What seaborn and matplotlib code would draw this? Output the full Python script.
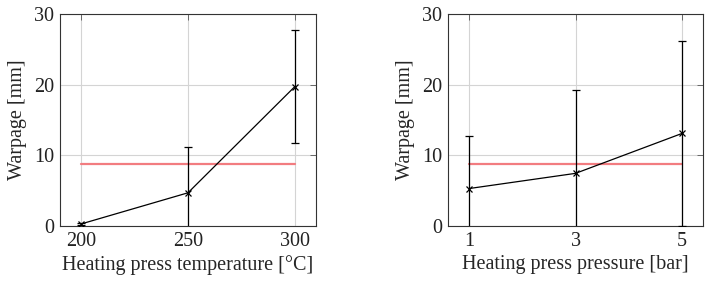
from matplotlib import pyplot as plt
import pandas as pd
import seaborn as sns

# values (mean warpage with symmetric error)
temperature = [200, 250, 300]
warpage_temp = [0.3, 4.7, 19.7]
err_temp = [0.1, 6.5, 8.0]

pressure = [1, 3, 5]
warpage_press = [5.3, 7.45, 13.1]
err_press = [7.4, 11.75, 13.1]

threshold = 8.8

sns.set_style("white")
plt.rcParams['font.family'] = ['Liberation Serif', 'DejaVu Serif']
plt.rcParams['font.size'] = 14.5
plt.rcParams['text.color'] = '#222222'


def draw_panel(ax, x, y, err, xlabel, xlim, xticks):
    df = pd.DataFrame({'x': x, 'y': y})
    ax.errorbar(x, y, yerr=err, fmt='none', ecolor='black', elinewidth=0.9,
                capsize=3, capthick=0.9, zorder=3)
    sns.lineplot(data=df, x='x', y='y', ax=ax, color='black', linewidth=0.9,
                 marker='x', markersize=5, markeredgewidth=0.9,
                 markeredgecolor='black', zorder=4)
    thr = pd.DataFrame({'x': [x[0], x[-1]], 'y': [threshold, threshold]})
    sns.lineplot(data=thr, x='x', y='y', ax=ax, color='#f27c80', linewidth=1.6,
                 zorder=2)
    ax.set_xlim(*xlim)
    ax.set_ylim(0, 30)
    ax.set_xticks(xticks)
    ax.set_yticks([0, 10, 20, 30])
    ax.grid(True, color='#d4d4d4', linewidth=0.8)
    ax.set_axisbelow(True)
    ax.tick_params(direction='in', length=4, width=0.6, color='#555555',
                   labelcolor='#222222', top=True, right=True,
                   labelsize=14.5, pad=4)
    for s in ax.spines.values():
        s.set_color('#333333')
        s.set_linewidth(0.8)
    ax.set_xlabel(xlabel, fontsize=14.5, labelpad=3)
    ax.set_ylabel('Warpage [mm]', fontsize=14.5, labelpad=5)


fig = plt.figure(figsize=(7.11, 2.81), dpi=100)
ax1 = fig.add_axes([0.0844, 0.1957, 0.360, 0.7545])
ax2 = fig.add_axes([0.6297, 0.1957, 0.3595, 0.7545])

draw_panel(ax1, temperature, warpage_temp, err_temp,
           'Heating press temperature [°C]', (190, 310), temperature)
draw_panel(ax2, pressure, warpage_press, err_press,
           'Heating press pressure [bar]', (0.6, 5.4), pressure)

fig.savefig('out.png', dpi=100)
